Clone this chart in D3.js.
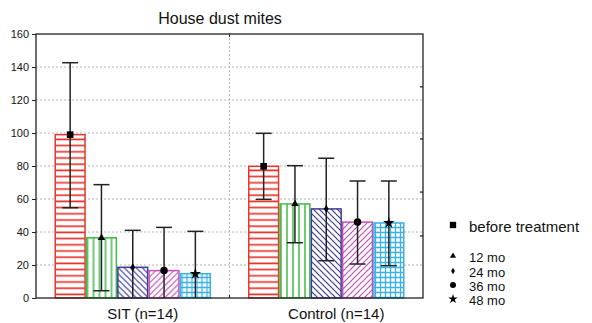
<!DOCTYPE html>
<html><head><meta charset="utf-8">
<script src="https://cdn.jsdelivr.net/npm/d3@7"></script>
<style>body{margin:0;background:#fff}svg{display:block;font-family:Arial,"Liberation Sans",sans-serif}</style>
</head><body><svg id="c" width="592" height="323"></svg>
<script>
const title = "House dust mites";
const groups = ["SIT (n=14)", "Control (n=14)"];
const series = ["before treatment", "12 mo", "24 mo", "36 mo", "48 mo"];
const means = [[99, 36.5, 18.6, 16.6, 14.7], [79.8, 57, 54, 46, 45.5]];
const upper = [[142.6, 68.7, 41, 42.8, 40.4], [99.8, 80.2, 84.7, 70.9, 70.9]];
const lower = [[54.7, 4.4, 0, 0, 0], [59.8, 33.5, 22.6, 20.6, 19.6]];
const yTicks = [0, 20, 40, 60, 80, 100, 120, 140, 160];
const rightTicks = [128, 96.4, 64.2, 37.6];
const colors = ["#e8362f", "#3fba46", "#3b3b98", "#c450b4", "#38b2e8"];
const symbols = [d3.symbolSquare, d3.symbolTriangle, d3.symbolDiamond, d3.symbolCircle, d3.symbolStar];
const symSize = [44, 24, 20, 44, 40];

const svg = d3.select("#c");
const L = 36, R = 423, T = 34, B = 298;
const x0 = d3.scaleBand().domain(groups).range([L, R]).paddingInner(0).paddingOuter(0);
const y = d3.scaleLinear().domain([0, 160]).range([B, T]);
const bw = 31.3;
const x1 = d3.scaleBand().domain(series).range([0, bw * 5]);

// patterns
const defs = svg.append("defs");
function pat(id, w, h, draw) {
  const p = defs.append("pattern").attr("id", id).attr("patternUnits", "userSpaceOnUse")
    .attr("width", w).attr("height", h);
  p.append("rect").attr("width", w).attr("height", h).attr("fill", "#fff");
  draw(p);
}
pat("p0", 6, 6.2, p => p.append("line").attr("x1", 0).attr("x2", 6).attr("y1", 3).attr("y2", 3).attr("stroke", colors[0]).attr("stroke-width", 1.7));
pat("p1", 6, 6, p => p.append("line").attr("y1", 0).attr("y2", 6).attr("x1", 3).attr("x2", 3).attr("stroke", colors[1]).attr("stroke-width", 1.5));
pat("p2", 6, 6, p => { p.append("path").attr("d", "M-1,-1 L7,7 M-4,2 L2,8 M4,-2 L10,4").attr("stroke", colors[2]).attr("stroke-width", 1.2); });
pat("p3", 6, 6, p => { p.append("path").attr("d", "M-1,7 L7,-1 M-4,4 L2,-2 M4,8 L10,2").attr("stroke", colors[3]).attr("stroke-width", 1.2); });
pat("p4", 5, 5, p => { p.append("path").attr("d", "M0,2.5 H5 M2.5,0 V5").attr("stroke", colors[4]).attr("stroke-width", 1.3); });

// grid
const grid = svg.append("g").attr("stroke", "#b5b5b5").attr("stroke-dasharray", "2,2").attr("stroke-width", 1);
yTicks.filter(t => t > 0 && t < 160).forEach(t => grid.append("line").attr("x1", L).attr("x2", R).attr("y1", y(t)).attr("y2", y(t)));
grid.append("line").attr("x1", x0(groups[1])).attr("x2", x0(groups[1])).attr("y1", T).attr("y2", B);

// bars
groups.forEach((g, gi) => {
  const gx = x0(g) + (x0.bandwidth() - bw * 5) / 2;
  const gg = svg.append("g").attr("transform", `translate(${gx},0)`);
  series.forEach((s, si) => {
    const v = means[gi][si];
    gg.append("rect").attr("x", x1(s) + 0.75).attr("width", x1.bandwidth() - 1.5)
      .attr("y", y(v)).attr("height", y(0) - y(v))
      .attr("fill", `url(#p${si})`).attr("stroke", colors[si]).attr("stroke-width", 1.5);
  });
  series.forEach((s, si) => {
    const cx = x1(s) + x1.bandwidth() / 2;
    const e = gg.append("g").attr("stroke", "#222").attr("stroke-width", 1.5);
    e.append("line").attr("x1", cx).attr("x2", cx).attr("y1", y(upper[gi][si])).attr("y2", y(lower[gi][si]));
    e.append("line").attr("x1", cx - 8).attr("x2", cx + 8).attr("y1", y(upper[gi][si])).attr("y2", y(upper[gi][si]));
    if (lower[gi][si] > 0) e.append("line").attr("x1", cx - 8).attr("x2", cx + 8).attr("y1", y(lower[gi][si])).attr("y2", y(lower[gi][si]));
    gg.append("path").attr("d", d3.symbol(symbols[si], symSize[si])()).attr("fill", "#000")
      .attr("transform", `translate(${cx},${y(means[gi][si])})`);
  });
});

// frame
svg.append("rect").attr("x", L).attr("y", T).attr("width", R - L).attr("height", B - T)
  .attr("fill", "none").attr("stroke", "#222").attr("stroke-width", 1.3);

// left axis
const ax = svg.append("g").attr("transform", `translate(${L},0)`)
  .call(d3.axisLeft(y).tickValues(yTicks).tickSize(4).tickPadding(3).tickFormat(d3.format("d")));
ax.select(".domain").remove();
ax.selectAll("line").attr("stroke", "#222");
ax.selectAll("text").attr("font-size", 11).attr("fill", "#111").attr("font-family", "Arial, Liberation Sans, sans-serif");

// right inner ticks
const rt = svg.append("g").attr("stroke", "#222").attr("stroke-width", 1.3);
rightTicks.forEach(t => rt.append("line").attr("x1", R).attr("x2", R - 3).attr("y1", y(t)).attr("y2", y(t)));
// mid ticks
svg.append("line").attr("x1", x0(groups[1])).attr("x2", x0(groups[1])).attr("y1", T).attr("y2", T + 3).attr("stroke", "#222");
svg.append("line").attr("x1", x0(groups[1])).attr("x2", x0(groups[1])).attr("y1", B).attr("y2", B - 3).attr("stroke", "#222");

// x labels
groups.forEach(g => svg.append("text").attr("x", x0(g) + x0.bandwidth() / 2 + 10).attr("y", 319)
  .attr("text-anchor", "middle").attr("font-size", 15).attr("fill", "#111").text(g));

// title
svg.append("text").attr("x", 220).attr("y", 24).attr("text-anchor", "middle").attr("font-size", 16).attr("fill", "#111").text(title);

// legend
const legY = [227, 257, 272, 286, 300];
const legSize = [40, 16, 12, 28, 28];
series.forEach((s, si) => {
  svg.append("path").attr("d", d3.symbol(symbols[si], legSize[si])()).attr("fill", "#000")
    .attr("transform", `translate(453,${legY[si] - (si === 0 ? 2 : 1)})`);
  svg.append("text").attr("x", 469).attr("y", legY[si] + 5).attr("font-size", si === 0 ? 15 : 13).attr("fill", "#111").text(s);
});
</script></body></html>
